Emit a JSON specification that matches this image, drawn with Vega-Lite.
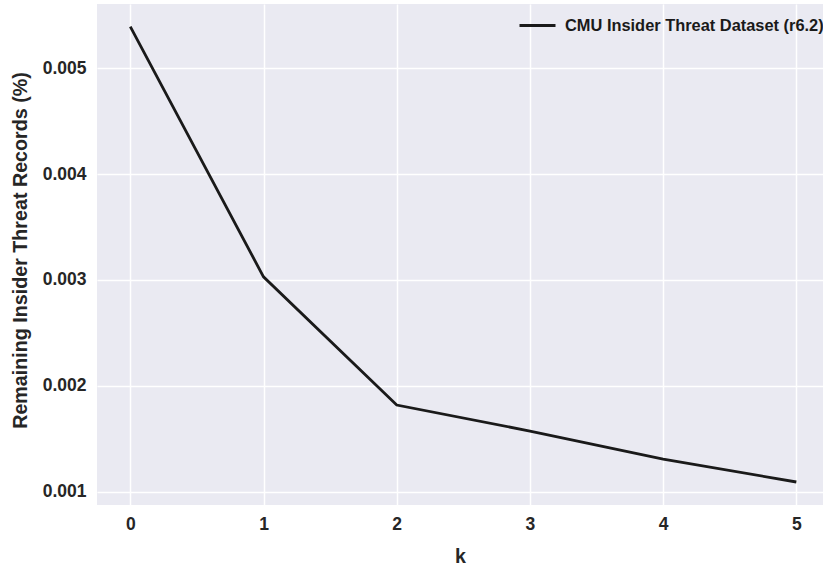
{
  "$schema": "https://vega.github.io/schema/vega-lite/v6.json",
  "width": 726,
  "height": 501,
  "autosize": {"type": "none"},
  "padding": {"left": 97, "top": 4, "right": 0, "bottom": 62},
  "background": "white",
  "config": {
    "view": {"fill": "#EAEAF2", "stroke": null},
    "font": "Liberation Sans",
    "axis": {
      "grid": true,
      "gridColor": "white",
      "gridWidth": 1.5,
      "domain": false,
      "ticks": false,
      "labelFont": "Liberation Sans",
      "labelFontWeight": "bold",
      "labelColor": "#262626",
      "labelFontSize": 17.5,
      "titleFont": "Liberation Sans",
      "titleFontWeight": "bold",
      "titleColor": "#262626",
      "titleFontSize": 19.7
    }
  },
  "data": {
    "values": [
      {"k": 0, "value": 0.00539, "series": "CMU Insider Threat Dataset (r6.2)"},
      {"k": 1, "value": 0.00303, "series": "CMU Insider Threat Dataset (r6.2)"},
      {"k": 2, "value": 0.00182, "series": "CMU Insider Threat Dataset (r6.2)"},
      {"k": 3, "value": 0.001575, "series": "CMU Insider Threat Dataset (r6.2)"},
      {"k": 4, "value": 0.00131, "series": "CMU Insider Threat Dataset (r6.2)"},
      {"k": 5, "value": 0.001094, "series": "CMU Insider Threat Dataset (r6.2)"}
    ]
  },
  "mark": {"type": "line", "strokeWidth": 2.8, "clip": true},
  "encoding": {
    "x": {
      "field": "k",
      "type": "quantitative",
      "scale": {"domain": [-0.25, 5.2], "nice": false, "zero": false},
      "axis": {"values": [0, 1, 2, 3, 4, 5], "format": "d", "title": "k", "labelPadding": 10, "titlePadding": 14}
    },
    "y": {
      "field": "value",
      "type": "quantitative",
      "scale": {"domain": [0.000877, 0.005604], "nice": false, "zero": false},
      "axis": {"values": [0.001, 0.002, 0.003, 0.004, 0.005], "format": ".3f", "title": "Remaining Insider Threat Records (%)", "labelPadding": 11, "titlePadding": 12, "titleY": 246}
    },
    "color": {
      "field": "series",
      "type": "nominal",
      "scale": {"range": ["#1a1a1a"]},
      "legend": {
        "title": null,
        "orient": "none",
        "legendX": 421,
        "legendY": 2,
        "symbolType": "stroke",
        "symbolStrokeWidth": 2.8,
        "symbolSize": 1296,
        "labelOffset": 8,
        "labelFont": "Liberation Sans",
        "labelFontWeight": "bold",
        "labelFontSize": 16.4,
        "labelColor": "#1a1a1a",
        "labelLimit": 400
      }
    }
  }
}
